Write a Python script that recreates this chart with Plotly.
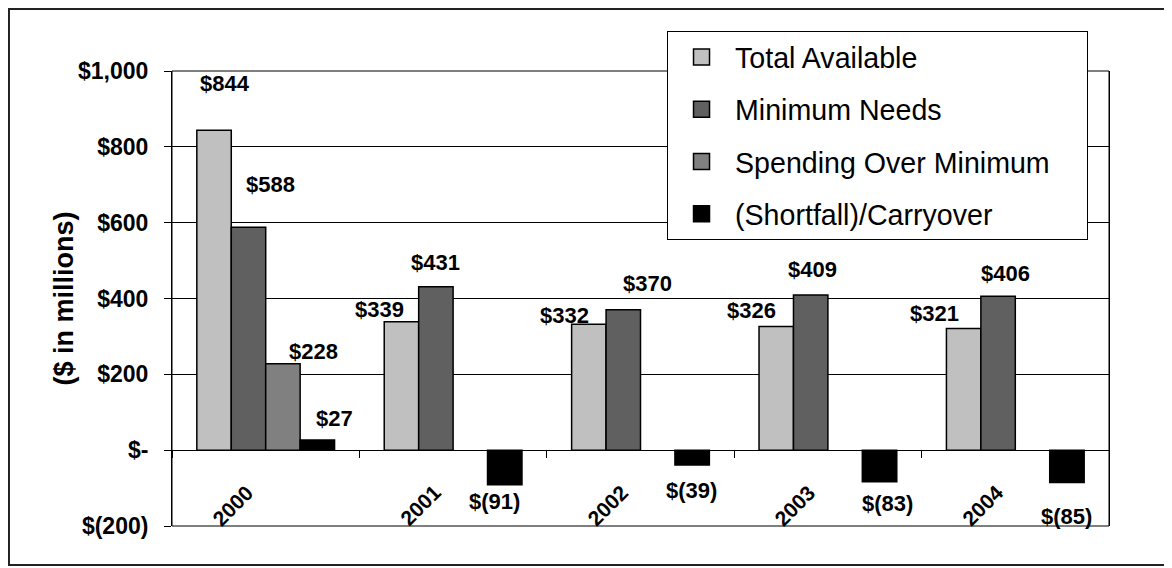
import plotly.graph_objects as go

# values ($ in millions)
years = ["2000", "2001", "2002", "2003", "2004"]
total_available = [844, 339, 332, 326, 321]
minimum_needs = [588, 431, 370, 409, 406]
spending_over_minimum = [228, None, None, None, None]
shortfall_carryover = [27, -91, -39, -83, -85]

y_tick_values = [-200, 0, 200, 400, 600, 800, 1000]
y_tick_labels = ["$(200)", "$-", "$200", "$400", "$600", "$800", "$1,000"]

series_names = ["Total Available", "Minimum Needs", "Spending Over Minimum", "(Shortfall)/Carryover"]
series_values = [total_available, minimum_needs, spending_over_minimum, shortfall_carryover]
series_colors = ["#c0c0c0", "#606060", "#808080", "#000000"]

# hand placed data label offsets (px) like in the original sheet
label_dx = [[11, -22, -24, -25, -29],
            [22, 0, 24, 2, 7],
            [31, 0, 0, 0, 0],
            [17, -10, -1, 8, 0]]
label_dy = [[47, 12, 9, 16, 15],
            [43, 24, 26, 26, 23],
            [12, 0, 0, 0, 0],
            [21, -17, -26, -22, -34]]

FONT = "Liberation Sans, Arial, sans-serif"
bargap = 0.265
slot = (1 - bargap) / len(series_names)


def money(v):
    if v < 0:
        return "$(%d)" % abs(v)
    return "$%d" % v


fig = go.Figure()

for k in range(len(series_names)):
    fig.add_trace(go.Bar(
        x = years,
        y = series_values[k],
        name = series_names[k],
        marker = dict(color = series_colors[k], line = dict(color = "black", width = 1.5)),
        legendgroup = series_names[k],
        showlegend = False,
        hoverinfo = "skip"
    ))

# legend swatches (bar swatches are too small)
for k in range(len(series_names)):
    name = series_names[k]
    if k == 2:
        name = name + "\u00a0" * 4   # pad the widest entry so the box is as wide as the original
    fig.add_trace(go.Scatter(
        x = [None], y = [None],
        mode = "markers",
        name = name,
        legendgroup = series_names[k],
        marker = dict(symbol = "square", size = 16, color = series_colors[k],
                      line = dict(color = "black", width = 1.5))
    ))

# data labels
for k in range(len(series_names)):
    for i, v in enumerate(series_values[k]):
        if v is None:
            continue
        fig.add_annotation(
            x = i + (k - 1.5) * slot, y = v,
            text = money(v),
            showarrow = False,
            xanchor = "center", yanchor = "middle",
            xshift = label_dx[k][i], yshift = label_dy[k][i],
            font = dict(family = FONT, size = 22, color = "black", weight = "bold")
        )

# year labels sit just under the zero line
for i, yr in enumerate(years):
    fig.add_annotation(
        x = i, y = 0,
        text = yr,
        showarrow = False,
        textangle = -45,
        xanchor = "center", yanchor = "middle",
        xshift = -33, yshift = -55,
        font = dict(family = FONT, size = 21, color = "black", weight = "bold")
    )

fig.add_annotation(
    xref = "paper", yref = "paper",
    x = -0.1153, y = 0.5,
    xanchor = "center", yanchor = "middle",
    text = "($ in millions)",
    textangle = -90,
    showarrow = False,
    font = dict(family = FONT, size = 27, color = "black", weight = "bold")
)

# page body has an 8px margin, so the figure is 8px smaller each way
fig.update_layout(
    width = 1164,
    height = 560,
    margin = dict(l = 164, r = 63, t = 63, b = 42),
    plot_bgcolor = "white",
    paper_bgcolor = "white",
    barmode = "group",
    bargap = bargap,
    bargroupgap = 0,
    font = dict(family = FONT, color = "black"),
    showlegend = True,
    legend = dict(
        x = 0.5283, y = 1.0879,
        xanchor = "left", yanchor = "top",
        bgcolor = "white",
        bordercolor = "black",
        borderwidth = 1,
        traceorder = "grouped",
        tracegroupgap = 12,
        itemwidth = 57,
        font = dict(family = FONT, size = 28.6, color = "black")
    ),
    shapes = [
        dict(type = "rect", xref = "paper", yref = "paper", x0 = 0, x1 = 1, y0 = 0, y1 = 1,
             line = dict(color = "black", width = 1)),
        dict(type = "rect", xref = "paper", yref = "paper", x0 = -0.174, x1 = 1.0662, y0 = -0.0857, y1 = 1.1363,
             line = dict(color = "#222222", width = 2))
    ]
)

fig.update_xaxes(
    type = "category",
    anchor = "free",
    position = 1 / 6,
    showline = True,
    linecolor = "black",
    linewidth = 1,
    ticks = "outside",
    tickson = "boundaries",
    ticklen = 7,
    tickcolor = "black",
    showticklabels = False,
    showgrid = False,
    zeroline = False
)

fig.update_yaxes(
    range = [-200, 1000],
    tickvals = y_tick_values,
    ticktext = y_tick_labels,
    ticks = "outside",
    ticklen = 7,
    tickcolor = "black",
    ticklabelstandoff = 11,
    tickfont = dict(family = FONT, size = 23, color = "black", weight = "bold"),
    showgrid = True,
    gridcolor = "black",
    gridwidth = 1,
    showline = True,
    linecolor = "black",
    mirror = True,
    zeroline = False
)

fig.write_html("out.html")
